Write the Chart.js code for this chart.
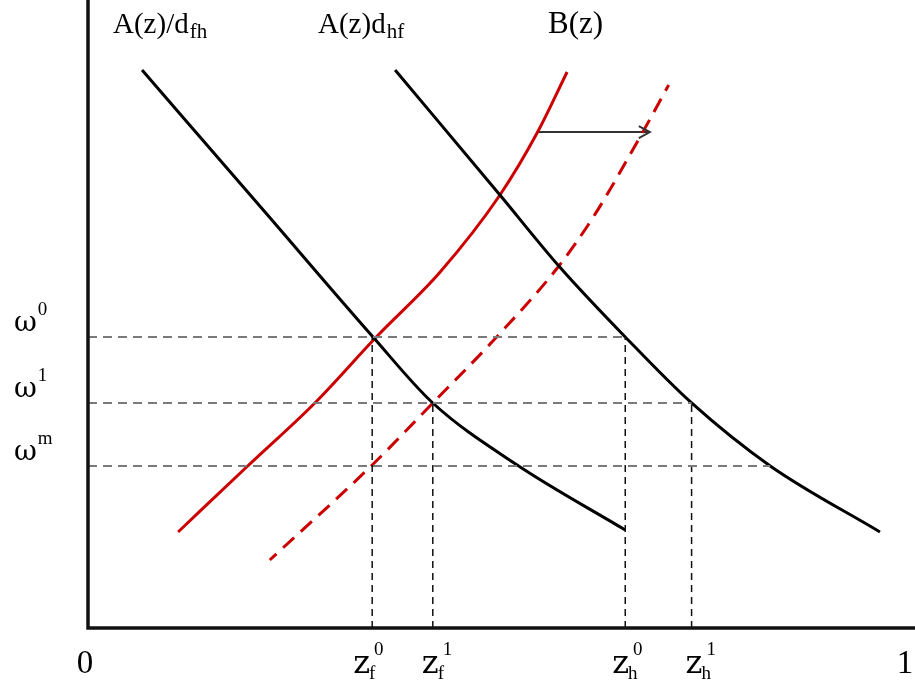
<!DOCTYPE html>
<html>
<head>
<meta charset="utf-8">
<script src="https://cdn.jsdelivr.net/npm/chart.js@4/dist/chart.umd.min.js"></script>
<style>
  html, body { margin: 0; padding: 0; background: #fff; }
</style>
</head>
<body>
<canvas id="chart" width="915" height="691"></canvas>
<script>
// curve A(z)/d_fh
const aFhX = [0.066, 0.214, 0.348, 0.421, 0.524, 0.656];
const aFhY = [8.885, 6.656, 4.634, 3.583, 2.596, 1.561];
// curve A(z)d_hf
const aHfX = [0.375, 0.503, 0.576, 0.656, 0.737, 0.833, 0.967];
const aHfY = [8.885, 6.895, 5.748, 4.634, 3.583, 2.580, 1.529];
// curve B(z), before and after the shift
const bX = [0.110, 0.195, 0.277, 0.352, 0.430, 0.503, 0.549, 0.585];
const bY = [1.529, 2.580, 3.583, 4.634, 5.669, 6.895, 7.898, 8.854];
const bShiftX = [0.222, 0.347, 0.421, 0.499, 0.574, 0.617, 0.674, 0.709];
const bShiftY = [1.083, 2.596, 3.583, 4.634, 5.748, 6.545, 7.818, 8.646];
// shift arrow
const arrowX = [0.549, 0.686];
const arrowY = [7.898, 7.898];

// wage levels and where the horizontal guides stop
const omegaLevels = [4.634, 3.583, 2.580];
const omegaSup = ['0', '1', 'm'];
const omegaEnds = [0.656, 0.737, 0.833];

// cutoffs on the z axis and the level they rise to
const zCuts = [0.347, 0.421, 0.656, 0.737];
const zTops = [4.634, 3.583, 4.634, 3.583];
const zSub = ['f', 'f', 'h', 'h'];
const zSup = ['0', '1', '0', '1'];

const axisTicks = [0, 1];
const axisTickLabels = ['0', '1'];

const pts = (xs, ys) => xs.map((x, i) => ({ x: x, y: ys[i] }));

const datasets = [];
omegaLevels.forEach((w, i) => {
  datasets.push({
    data: [{ x: 0, y: w }, { x: omegaEnds[i], y: w }],
    borderColor: '#7a7a7a', borderWidth: 2, borderDash: [9, 6]
  });
});
zCuts.forEach((z, i) => {
  datasets.push({
    data: [{ x: z, y: 0 }, { x: z, y: zTops[i] }],
    borderColor: '#111', borderWidth: 1.5, borderDash: [7, 5]
  });
});
datasets.push(
  { data: pts(aFhX, aFhY), borderColor: '#000', borderWidth: 3, cubicInterpolationMode: 'monotone' },
  { data: pts(aHfX, aHfY), borderColor: '#000', borderWidth: 3, cubicInterpolationMode: 'monotone' },
  { data: pts(bX, bY), borderColor: '#cc0000', borderWidth: 3, cubicInterpolationMode: 'monotone' },
  { data: pts(bShiftX, bShiftY), borderColor: '#cc0000', borderWidth: 3, borderDash: [15, 9], borderDashOffset: 6, cubicInterpolationMode: 'monotone' },
  { data: pts(arrowX, arrowY), borderColor: '#333', borderWidth: 2 }
);

function drawParts(ctx, x, y, parts) {
  parts.forEach(p => {
    ctx.font = p.size + 'px ' + (p.family || '"Liberation Serif"');
    ctx.fillText(p.t, x + (p.dx || 0), y + (p.dy || 0));
    x += ctx.measureText(p.t).width + (p.dx || 0);
  });
}

const annotate = {
  id: 'annotate',
  afterDraw(chart) {
    const ctx = chart.ctx;
    const xs = chart.scales.x, ys = chart.scales.y;
    const area = chart.chartArea;
    ctx.save();
    // axes
    ctx.strokeStyle = '#111';
    ctx.lineWidth = 3.5;
    ctx.beginPath();
    ctx.moveTo(area.left, area.top);
    ctx.lineTo(area.left, area.bottom);
    ctx.lineTo(area.right, area.bottom);
    ctx.stroke();

    // arrow head
    const tx = xs.getPixelForValue(arrowX[1]), ty = ys.getPixelForValue(arrowY[1]);
    ctx.strokeStyle = '#333';
    ctx.lineWidth = 2;
    ctx.beginPath();
    ctx.moveTo(tx - 11, ty - 6);
    ctx.lineTo(tx, ty);
    ctx.lineTo(tx - 11, ty + 6);
    ctx.stroke();

    ctx.fillStyle = '#000';
    ctx.textBaseline = 'alphabetic';
    ctx.textAlign = 'left';

    // curve names
    drawParts(ctx, 113, 33, [{ t: 'A(z)/d', size: 29 }, { t: 'fh', size: 21, dy: 5, dx: 1 }]);
    drawParts(ctx, 318, 33, [{ t: 'A(z)d', size: 29 }, { t: 'hf', size: 21, dy: 5, dx: 1 }]);
    drawParts(ctx, 548, 33, [{ t: 'B(z)', size: 31 }]);

    // omega labels
    omegaLevels.forEach((w, i) => {
      const py = ys.getPixelForValue(w);
      drawParts(ctx, 14, py - 6, [
        { t: '\u03c9', size: 28, family: '"DejaVu Serif"' },
        { t: omegaSup[i], size: 19, dy: -16, dx: 1 }
      ]);
    });

    // z labels
    const zShift = [-19, -11, -13, -6];
    zCuts.forEach((z, i) => {
      const px = xs.getPixelForValue(z) + zShift[i];
      ctx.font = '32px "DejaVu Serif"';
      ctx.fillText('z', px, 673);
      const zw = ctx.measureText('z').width;
      ctx.font = '19px "Liberation Serif"';
      ctx.fillText(zSub[i], px + zw - 1, 679);
      ctx.fillText(zSup[i], px + zw + 4, 655);
    });

    // axis ends
    ctx.font = '33px "Liberation Serif"';
    ctx.textAlign = 'center';
    axisTicks.forEach((v, i) => {
      const px = i === 0 ? xs.getPixelForValue(v) - 3 : xs.getPixelForValue(v) - 2;
      ctx.fillText(axisTickLabels[i], px, 673);
    });
    ctx.restore();
  }
};

new Chart(document.getElementById('chart').getContext('2d'), {
  type: 'scatter',
  data: { datasets: datasets },
  options: {
    responsive: false,
    animation: false,
    layout: { padding: { left: 88, right: 0, top: 0, bottom: 63 } },
    elements: {
      point: { radius: 0, hoverRadius: 0 },
      line: { fill: false, borderCapStyle: 'butt', borderJoinStyle: 'round' }
    },
    datasets: { scatter: { showLine: true } },
    scales: {
      x: { type: 'linear', display: false, min: 0, max: 1.0098 },
      y: { type: 'linear', display: false, min: 0, max: 10 }
    },
    plugins: { legend: { display: false }, tooltip: { enabled: false } }
  },
  plugins: [annotate]
});
</script>
</body>
</html>
